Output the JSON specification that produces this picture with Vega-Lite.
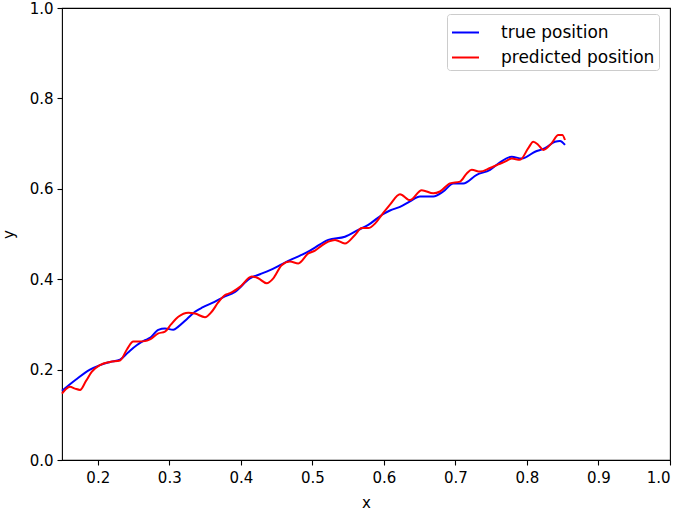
{
  "$schema": "https://vega.github.io/schema/vega-lite/v6.json",
  "width": 608,
  "height": 452,
  "autosize": "none",
  "padding": {"left": 62, "top": 8, "right": 15, "bottom": 50},
  "background": "white",
  "config": {
    "view": {"stroke": "black", "strokeWidth": 1.1},
    "font": "DejaVu Sans",
    "axis": {
      "grid": false,
      "domain": false,
      "tickColor": "black",
      "tickSize": 5,
      "tickWidth": 1.1,
      "labelFont": "DejaVu Sans",
      "labelFontSize": 15,
      "labelColor": "black",
      "labelPadding": 4,
      "titleFont": "DejaVu Sans",
      "titleFontSize": 15,
      "titleFontWeight": "normal",
      "titleColor": "black"
    }
  },
  "data": {
    "values": [
      {"x": 0.15, "y": 0.153, "series": "true position"},
      {"x": 0.1696, "y": 0.178, "series": "true position"},
      {"x": 0.1891, "y": 0.200, "series": "true position"},
      {"x": 0.2031, "y": 0.210, "series": "true position"},
      {"x": 0.2171, "y": 0.217, "series": "true position"},
      {"x": 0.2311, "y": 0.222, "series": "true position"},
      {"x": 0.2423, "y": 0.238, "series": "true position"},
      {"x": 0.2544, "y": 0.254, "series": "true position"},
      {"x": 0.2660, "y": 0.265, "series": "true position"},
      {"x": 0.2730, "y": 0.270, "series": "true position"},
      {"x": 0.2846, "y": 0.288, "series": "true position"},
      {"x": 0.2940, "y": 0.291, "series": "true position"},
      {"x": 0.3056, "y": 0.288, "series": "true position"},
      {"x": 0.3126, "y": 0.295, "series": "true position"},
      {"x": 0.3248, "y": 0.312, "series": "true position"},
      {"x": 0.3359, "y": 0.328, "series": "true position"},
      {"x": 0.3471, "y": 0.338, "series": "true position"},
      {"x": 0.3593, "y": 0.347, "series": "true position"},
      {"x": 0.3751, "y": 0.360, "series": "true position"},
      {"x": 0.3919, "y": 0.372, "series": "true position"},
      {"x": 0.4128, "y": 0.402, "series": "true position"},
      {"x": 0.4268, "y": 0.411, "series": "true position"},
      {"x": 0.4408, "y": 0.420, "series": "true position"},
      {"x": 0.4548, "y": 0.431, "series": "true position"},
      {"x": 0.4687, "y": 0.442, "series": "true position"},
      {"x": 0.4827, "y": 0.452, "series": "true position"},
      {"x": 0.4967, "y": 0.463, "series": "true position"},
      {"x": 0.5037, "y": 0.470, "series": "true position"},
      {"x": 0.5223, "y": 0.487, "series": "true position"},
      {"x": 0.5456, "y": 0.494, "series": "true position"},
      {"x": 0.5642, "y": 0.509, "series": "true position"},
      {"x": 0.5782, "y": 0.520, "series": "true position"},
      {"x": 0.5969, "y": 0.542, "series": "true position"},
      {"x": 0.6085, "y": 0.552, "series": "true position"},
      {"x": 0.6225, "y": 0.560, "series": "true position"},
      {"x": 0.6365, "y": 0.572, "series": "true position"},
      {"x": 0.6505, "y": 0.583, "series": "true position"},
      {"x": 0.6691, "y": 0.583, "series": "true position"},
      {"x": 0.6831, "y": 0.594, "series": "true position"},
      {"x": 0.6970, "y": 0.612, "series": "true position"},
      {"x": 0.7110, "y": 0.612, "series": "true position"},
      {"x": 0.7298, "y": 0.631, "series": "true position"},
      {"x": 0.7484, "y": 0.642, "series": "true position"},
      {"x": 0.7600, "y": 0.656, "series": "true position"},
      {"x": 0.7787, "y": 0.671, "series": "true position"},
      {"x": 0.7927, "y": 0.667, "series": "true position"},
      {"x": 0.8113, "y": 0.682, "series": "true position"},
      {"x": 0.8252, "y": 0.690, "series": "true position"},
      {"x": 0.8392, "y": 0.704, "series": "true position"},
      {"x": 0.8462, "y": 0.706, "series": "true position"},
      {"x": 0.8532, "y": 0.697, "series": "true position"},

      {"x": 0.15, "y": 0.147, "series": "predicted position"},
      {"x": 0.1556, "y": 0.157, "series": "predicted position"},
      {"x": 0.1612, "y": 0.162, "series": "predicted position"},
      {"x": 0.1682, "y": 0.158, "series": "predicted position"},
      {"x": 0.1752, "y": 0.155, "series": "predicted position"},
      {"x": 0.1836, "y": 0.175, "series": "predicted position"},
      {"x": 0.1915, "y": 0.195, "series": "predicted position"},
      {"x": 0.2031, "y": 0.210, "series": "predicted position"},
      {"x": 0.2171, "y": 0.217, "series": "predicted position"},
      {"x": 0.2311, "y": 0.220, "series": "predicted position"},
      {"x": 0.2409, "y": 0.245, "series": "predicted position"},
      {"x": 0.2497, "y": 0.262, "series": "predicted position"},
      {"x": 0.2562, "y": 0.262, "series": "predicted position"},
      {"x": 0.2660, "y": 0.263, "series": "predicted position"},
      {"x": 0.2730, "y": 0.267, "series": "predicted position"},
      {"x": 0.2846, "y": 0.280, "series": "predicted position"},
      {"x": 0.2940, "y": 0.284, "series": "predicted position"},
      {"x": 0.3024, "y": 0.300, "series": "predicted position"},
      {"x": 0.3126, "y": 0.317, "series": "predicted position"},
      {"x": 0.3266, "y": 0.326, "series": "predicted position"},
      {"x": 0.3359, "y": 0.324, "series": "predicted position"},
      {"x": 0.3499, "y": 0.316, "series": "predicted position"},
      {"x": 0.3593, "y": 0.328, "series": "predicted position"},
      {"x": 0.3681, "y": 0.348, "series": "predicted position"},
      {"x": 0.3779, "y": 0.365, "series": "predicted position"},
      {"x": 0.3849, "y": 0.369, "series": "predicted position"},
      {"x": 0.3988, "y": 0.383, "series": "predicted position"},
      {"x": 0.4152, "y": 0.406, "series": "predicted position"},
      {"x": 0.4244, "y": 0.402, "series": "predicted position"},
      {"x": 0.4362, "y": 0.391, "series": "predicted position"},
      {"x": 0.4454, "y": 0.402, "series": "predicted position"},
      {"x": 0.4571, "y": 0.431, "series": "predicted position"},
      {"x": 0.4687, "y": 0.439, "series": "predicted position"},
      {"x": 0.4804, "y": 0.435, "series": "predicted position"},
      {"x": 0.4943, "y": 0.457, "series": "predicted position"},
      {"x": 0.5037, "y": 0.463, "series": "predicted position"},
      {"x": 0.5135, "y": 0.475, "series": "predicted position"},
      {"x": 0.5223, "y": 0.483, "series": "predicted position"},
      {"x": 0.5317, "y": 0.487, "series": "predicted position"},
      {"x": 0.5456, "y": 0.479, "series": "predicted position"},
      {"x": 0.5596, "y": 0.498, "series": "predicted position"},
      {"x": 0.5690, "y": 0.513, "series": "predicted position"},
      {"x": 0.5782, "y": 0.513, "series": "predicted position"},
      {"x": 0.5876, "y": 0.523, "series": "predicted position"},
      {"x": 0.5969, "y": 0.542, "series": "predicted position"},
      {"x": 0.6085, "y": 0.565, "series": "predicted position"},
      {"x": 0.6225, "y": 0.588, "series": "predicted position"},
      {"x": 0.6365, "y": 0.575, "series": "predicted position"},
      {"x": 0.6529, "y": 0.597, "series": "predicted position"},
      {"x": 0.6691, "y": 0.590, "series": "predicted position"},
      {"x": 0.6784, "y": 0.594, "series": "predicted position"},
      {"x": 0.6924, "y": 0.612, "series": "predicted position"},
      {"x": 0.7064, "y": 0.616, "series": "predicted position"},
      {"x": 0.7158, "y": 0.634, "series": "predicted position"},
      {"x": 0.7228, "y": 0.642, "series": "predicted position"},
      {"x": 0.7344, "y": 0.638, "series": "predicted position"},
      {"x": 0.7484, "y": 0.646, "series": "predicted position"},
      {"x": 0.7600, "y": 0.654, "series": "predicted position"},
      {"x": 0.7693, "y": 0.660, "series": "predicted position"},
      {"x": 0.7787, "y": 0.667, "series": "predicted position"},
      {"x": 0.7903, "y": 0.664, "series": "predicted position"},
      {"x": 0.8019, "y": 0.690, "series": "predicted position"},
      {"x": 0.8089, "y": 0.704, "series": "predicted position"},
      {"x": 0.8159, "y": 0.697, "series": "predicted position"},
      {"x": 0.8229, "y": 0.686, "series": "predicted position"},
      {"x": 0.8346, "y": 0.701, "series": "predicted position"},
      {"x": 0.8438, "y": 0.719, "series": "predicted position"},
      {"x": 0.8494, "y": 0.719, "series": "predicted position"},
      {"x": 0.8532, "y": 0.708, "series": "predicted position"}
    ]
  },
  "encoding": {
    "x": {
      "field": "x", "type": "quantitative", "title": "x",
      "scale": {"domain": [0.15, 1.0], "nice": false, "zero": false},
      "axis": {"values": [0.2, 0.3, 0.4, 0.5, 0.6, 0.7, 0.8, 0.9, 1.0], "format": ".1f", "titlePadding": 10, "labelPadding": 5}
    },
    "y": {
      "field": "y", "type": "quantitative", "title": "y",
      "scale": {"domain": [0, 1], "nice": false},
      "axis": {"values": [0, 0.2, 0.4, 0.6, 0.8, 1.0], "format": ".1f", "titlePadding": 13}
    },
    "color": {
      "field": "series", "type": "nominal",
      "scale": {"domain": ["true position", "predicted position"], "range": ["#0000ff", "#ff0000"]},
      "legend": {
        "title": null,
        "orient": "none",
        "legendX": 385,
        "legendY": 6,
        "padding": 4,
        "fillColor": "white",
        "strokeColor": "#cccccc",
        "cornerRadius": 3,
        "symbolType": "stroke",
        "symbolSize": 729,
        "symbolStrokeWidth": 2,
        "labelFont": "DejaVu Sans",
        "labelFontSize": 17,
        "labelColor": "black",
        "labelOffset": 21,
        "rowPadding": 2
      }
    }
  },
  "layer": [
    {"transform": [{"filter": "datum.series === 'true position'"}], "mark": {"type": "line", "strokeWidth": 2, "interpolate": "monotone"}},
    {"transform": [{"filter": "datum.series === 'predicted position'"}], "mark": {"type": "line", "strokeWidth": 2, "interpolate": "monotone"}}
  ]
}
